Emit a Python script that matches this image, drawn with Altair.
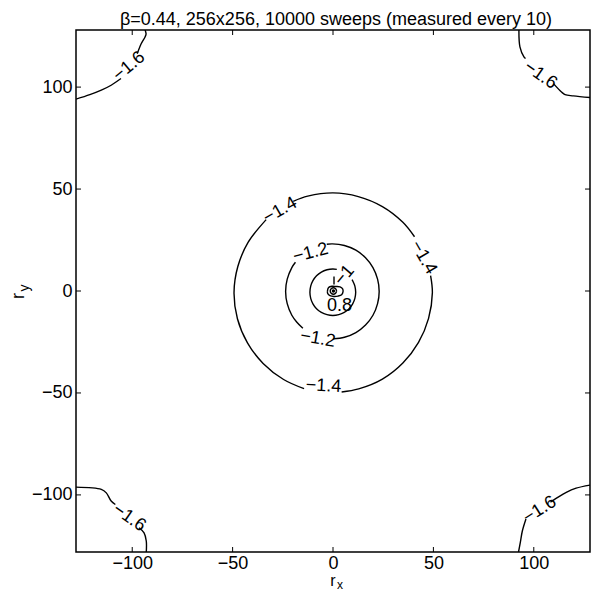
import altair as alt
import pandas as pd

# ---- tick values ----
ticks = [-100, -50, 0, 50, 100]

# ---- contour level -1.4 (three pieces, gaps where labels sit) ----
c14a_x = [40.6, 34.8, 24.6, 12.6, 0.0, -12.6, -19.8]
c14a_y = [26.6, 33.7, 41.4, 46.3, 48.1, 46.5, 44.0]
c14b_x = [-33.3, -42.3, -47.4, -49.3, -47.6, -42.6, -34.8, -24.6, -14.4]
c14b_y = [35.0, 23.8, 12.0, -0.8, -13.6, -25.4, -35.5, -43.4, -47.9]
c14c_x = [4.3, 12.8, 24.6, 34.8, 42.6, 47.6, 49.5, 48.6]
c14c_y = [-49.5, -48.0, -43.2, -35.3, -25.2, -13.4, -0.8, 7.6]

# ---- contour level -1.2 ----
c12a_x = [0.1, 5.7, 11.4, 16.2, 19.9, 22.2, 23.0, 22.2, 19.9, 16.2, 11.4, 5.7, -0.3, -3.1]
c12a_y = [-23.5, -22.7, -20.4, -16.7, -11.9, -6.2, -0.2, 5.8, 11.5, 16.3, 20.0, 22.3, 23.1, 22.9]
c12b_x = [-18.7, -20.5, -22.8, -23.6, -22.8, -20.5, -18.1, -15.0]
c12b_y = [14.1, 11.5, 5.8, -0.2, -6.2, -11.9, -15.2, -18.3]

# ---- contour level -1 ----
c10_x = [1.9, -0.1, -3.0, -5.8, -8.2, -10.0, -11.1, -11.5, -11.1, -10.0, -8.2, -5.8,
         -3.0, -0.1, 2.9, 5.6, 8.0, 9.8, 10.9, 11.3, 10.9, 10.2, 9.5]
c10_y = [10.6, 10.8, 10.4, 9.3, 7.5, 5.1, 2.4, -0.6, -3.6, -6.3, -8.7, -10.5,
         -11.6, -12.0, -11.6, -10.5, -8.7, -6.3, -3.6, -0.6, 2.4, 4.2, 5.6]

# ---- innermost contours ----
c08_x = [-2.8, -2.2, -0.5, 1.5, 3.5, 4.8, 5.0, 4.3, 2.5, 0.5, -1.5, -2.6, -2.8]
c08_y = [-0.2, 1.7, 2.3, 2.2, 2.0, 1.0, -0.3, -1.8, -2.5, -2.7, -2.3, -1.3, -0.2]
c06_x = [1.8, 1.3, 0.2, -0.9, -1.4, -0.9, 0.2, 1.3, 1.8]
c06_y = [0.0, 1.1, 1.6, 1.1, 0.0, -1.1, -1.6, -1.1, 0.0]
cseg_x = [0.5, 0.5]
cseg_y = [3.2, 7.1]
dot_x = [0.2]
dot_y = [0.0]

# ---- corner contours, level -1.6 ----
tla_x = [-128, -121.1, -115.4, -110.5, -105.6]
tla_y = [94.1, 96.3, 98.5, 100.9, 104.2]
tlb_x = [-97.5, -95.6, -93.6, -93.1, -93.6]
tlb_y = [116.3, 121.1, 124.6, 126.1, 128]
tra_x = [92.6, 93.1, 95.1, 95.9]
tra_y = [128, 119.7, 114.8, 114.0]
trb_x = [109.8, 113.8, 115.6, 119.7, 128]
trb_y = [101.7, 97.6, 96.3, 95.7, 94.9]
bla_x = [-128, -115.4, -112.9, -110.5, -108.4]
bla_y = [-96.2, -97.3, -99.0, -103.0, -104.7]
blb_x = [-96.6, -94.1, -93.0, -93.0]
blb_y = [-116.1, -118.6, -122.6, -128]
bra_x = [128, 121.1, 116.2, 111.3, 108.3]
bra_y = [-95.2, -96.7, -98.7, -101.6, -103.5]
brb_x = [96.1, 94.3, 93.3, 92.4]
brb_y = [-111.8, -117.7, -123.3, -128]

# ---- contour labels ----
lab_text = ["−1.4", "−1.4", "−1.4", "−1.2", "−1.2", "−1", "0.8",
            "−1.6", "−1.6", "−1.6", "−1.6"]
lab_x = [-26.3, 45.0, -4.7, -11.1, -7.6, 5.7, 3.2, -101.5, 103.3, -101.5, 103.0]
lab_y = [39.4, 16.4, -46.7, 18.6, -23.5, 7.6, -7.6, 110.1, 105.8, -111.2, -107.4]
lab_angle = [330, 60, 3, 345, 10, 310, 0, 320, 35, 35, 328]

title_text = ["β=0.44, 256x256, 10000 sweeps (measured every 10)"]

# ---------------- build tables ----------------
pieces = {
    "c14a": (c14a_x, c14a_y), "c14b": (c14b_x, c14b_y), "c14c": (c14c_x, c14c_y),
    "c12a": (c12a_x, c12a_y), "c12b": (c12b_x, c12b_y),
    "c10": (c10_x, c10_y),
    "c08": (c08_x, c08_y), "c06": (c06_x, c06_y), "cseg": (cseg_x, cseg_y),
    "tla": (tla_x, tla_y), "tlb": (tlb_x, tlb_y),
    "tra": (tra_x, tra_y), "trb": (trb_x, trb_y),
    "bla": (bla_x, bla_y), "blb": (blb_x, blb_y),
    "bra": (bra_x, bra_y), "brb": (brb_x, brb_y),
}
rows = []
for name, (xs, ys) in pieces.items():
    for i, (a, b) in enumerate(zip(xs, ys)):
        rows.append({"piece": name, "i": i, "x": a, "y": b})
lines_df = pd.DataFrame(rows)
labels_df = pd.DataFrame({"text": lab_text, "x": lab_x, "y": lab_y, "angle": lab_angle})
dot_df = pd.DataFrame({"x": dot_x, "y": dot_y})
ticks_df = pd.DataFrame({"x": ticks, "y": ticks})

W, H = 514, 522
FONT = "Liberation Sans"
xscale = alt.Scale(domain=[-128, 128], nice=False, zero=False)
yscale = alt.Scale(domain=[-128, 128], nice=False, zero=False)

xaxis = alt.Axis(values=ticks, domain=False, ticks=False, grid=False, labelFont=FONT,
                 labelFontSize=18, labelColor="black", labelPadding=2, title=None)
yaxis = alt.Axis(values=ticks, domain=False, ticks=False, grid=False, labelFont=FONT,
                 labelFontSize=18, labelColor="black", labelPadding=4, title=None)


def X(field="x"):
    return alt.X(f"{field}:Q", scale=xscale, axis=xaxis, title=None)


def Y(field="y"):
    return alt.Y(f"{field}:Q", scale=yscale, axis=yaxis, title=None)


lines = alt.Chart(lines_df).mark_line(
    color="black", strokeWidth=1.4, interpolate="catmull-rom", clip=True
).encode(x=X(), y=Y(), detail="piece:N", order="i:Q")

dot = alt.Chart(dot_df).mark_point(filled=True, color="black", size=12, opacity=1).encode(
    x=X(), y=Y())

labels = alt.Chart(labels_df).mark_text(
    font=FONT, fontSize=18, color="black", align="center", baseline="middle"
).encode(x=X(), y=Y(), text="text:N", angle=alt.Angle("angle:Q", scale=None))

TL = 5
tick_bottom = alt.Chart(ticks_df).mark_rule(color="black", strokeWidth=1).encode(
    x=X(), y=alt.value(H), y2=alt.value(H - TL))
tick_top = alt.Chart(ticks_df).mark_rule(color="black", strokeWidth=1).encode(
    x=X(), y=alt.value(0), y2=alt.value(TL))
tick_left = alt.Chart(ticks_df).mark_rule(color="black", strokeWidth=1).encode(
    y=Y(), x=alt.value(0), x2=alt.value(TL))
tick_right = alt.Chart(ticks_df).mark_rule(color="black", strokeWidth=1).encode(
    y=Y(), x=alt.value(W), x2=alt.value(W - TL))

# title and axis titles r_x, r_y (r with subscript)
title = alt.Chart(pd.DataFrame({"t": title_text})).mark_text(
    font=FONT, fontSize=18, color="black", align="center", baseline="alphabetic"
).encode(text="t:N", x=alt.value(W / 2 + 3), y=alt.value(-5))
xr = alt.Chart(pd.DataFrame({"t": ["r"]})).mark_text(
    font=FONT, fontSize=16, color="black", align="center", baseline="middle"
).encode(text="t:N", x=alt.value(W / 2), y=alt.value(551))
xs_ = alt.Chart(pd.DataFrame({"t": ["x"]})).mark_text(
    font=FONT, fontSize=12, color="black", align="center", baseline="middle"
).encode(text="t:N", x=alt.value(W / 2 + 7), y=alt.value(555))
yr = alt.Chart(pd.DataFrame({"t": ["r"]})).mark_text(
    font=FONT, fontSize=18, color="black", align="center", baseline="middle", angle=270
).encode(text="t:N", x=alt.value(-57), y=alt.value(266))
ys_ = alt.Chart(pd.DataFrame({"t": ["y"]})).mark_text(
    font=FONT, fontSize=14, color="black", align="center", baseline="middle", angle=270
).encode(text="t:N", x=alt.value(-51), y=alt.value(258))

chart = alt.layer(
    lines, dot, labels, tick_bottom, tick_top, tick_left, tick_right,
    title, xr, xs_, yr, ys_
).properties(
    width=W, height=H,
    padding={"left": 68, "top": 22, "right": 1, "bottom": 40},
    autosize=alt.AutoSizeParams(type="none"),
).configure_view(stroke="black", strokeWidth=1.5)

chart.save("out.html", embed_options={"renderer": "svg", "actions": False})
